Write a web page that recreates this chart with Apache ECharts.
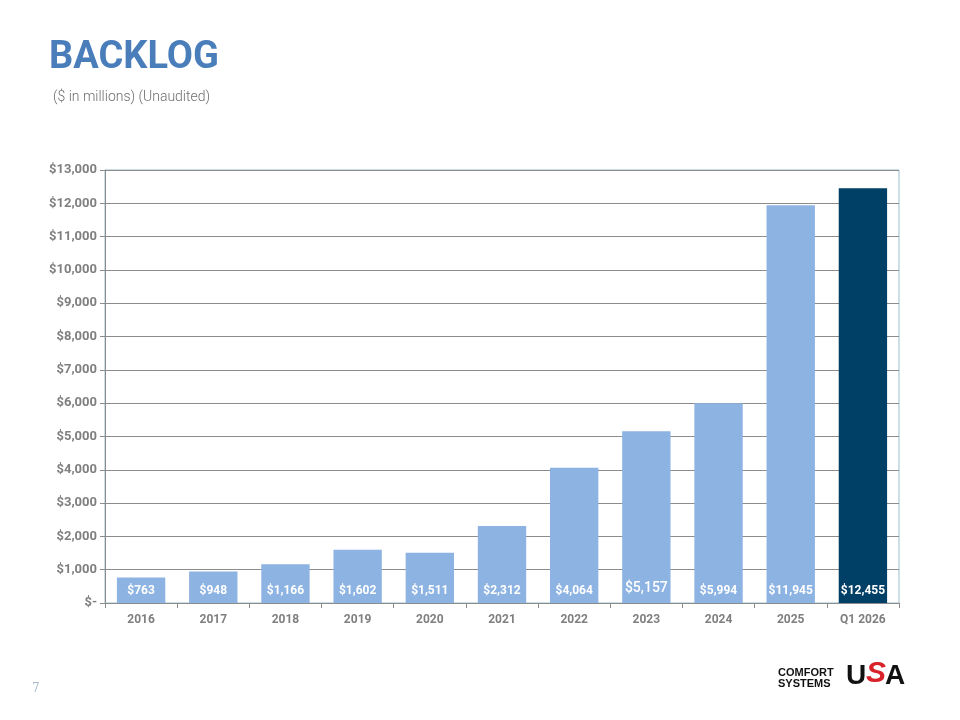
<!DOCTYPE html>
<html>
<head>
<meta charset="utf-8">
<script src="https://cdn.jsdelivr.net/npm/echarts@6/dist/echarts.min.js"></script>
<style>
  html, body { margin: 0; padding: 0; background: #fff; }
  #main { width: 960px; height: 720px; }
</style>
</head>
<body>
<div id="main"></div>
<script>
var years = ['2016', '2017', '2018', '2019', '2020', '2021', '2022', '2023', '2024', '2025', 'Q1 2026'];
var backlog = [763, 948, 1166, 1602, 1511, 2312, 4064, 5157, 5994, 11945, 12455];
var yTicks = [0, 1000, 2000, 3000, 4000, 5000, 6000, 7000, 8000, 9000, 10000, 11000, 12000, 13000];

function money(v) {
    if (v === 0) return '$-';
    return '$' + v.toLocaleString('en-US');
}

var myChart = echarts.init(document.getElementById('main'));

var barData = backlog.map(function (v, i) {
    var item = { value: v };
    if (i === backlog.length - 1) {
        item.itemStyle = { color: '#003f66' };
    }
    // 2023 label is set in a bigger, lighter type on the slide
    if (years[i] === '2023') {
        item.label = { fontSize: 14, fontWeight: 500, offset: [0, -2] };
    }
    return item;
});

var option = {
    animation: false,
    grid: {
        left: 105,
        right: 61,
        top: 170,
        bottom: 117,
        show: true,
        borderColor: '#9bbfcc',
        borderWidth: 1
    },
    xAxis: {
        type: 'category',
        data: years,
        axisLine: { lineStyle: { color: '#8c8c8c', width: 1 } },
        axisTick: { show: true, length: 5, lineStyle: { color: '#8c8c8c' } },
        axisLabel: {
            color: '#7f7f7f',
            fontFamily: 'Roboto',
            fontWeight: 'bold',
            fontSize: 12,
            margin: 11
        }
    },
    yAxis: {
        type: 'value',
        min: yTicks[0],
        max: yTicks[yTicks.length - 1],
        interval: 1000,
        axisLine: { show: true, lineStyle: { color: '#8c8c8c' } },
        axisTick: { show: true, length: 5, lineStyle: { color: '#8c8c8c' } },
        splitLine: { lineStyle: { color: '#8c8c8c', width: 1 } },
        axisLabel: {
            color: '#7f7f7f',
            fontFamily: 'Roboto',
            fontWeight: 'bold',
            fontSize: 13,
            margin: 8,
            formatter: money
        }
    },
    series: [{
        name: 'Backlog',
        type: 'bar',
        data: barData,
        barCategoryGap: '33%',
        itemStyle: { color: '#8db3e2' },
        label: {
            show: true,
            position: 'insideBottom',
            distance: 6,
            color: '#fff',
            fontFamily: 'Roboto',
            fontWeight: 'bold',
            fontSize: 12,
            formatter: function (p) { return money(p.value); }
        }
    }],
    graphic: [
        {
            type: 'text', left: 49, top: 39,
            style: { text: 'BACKLOG', fill: '#4a7ebb', font: 'bold 38px Roboto' }
        },
        {
            type: 'text', left: 53, top: 90,
            style: { text: '($ in millions) (Unaudited)', fill: '#6e6e6e', font: '300 14px Roboto' }
        },
        {
            type: 'text', left: 32, top: 683,
            style: { text: '7', fill: '#a9b8c9', font: '12px "DejaVu Serif"' }
        },
        {
            type: 'text', left: 778, top: 667,
            style: { text: 'COMFORT\nSYSTEMS', fill: '#111', font: 'bold 11px "Liberation Sans"', lineHeight: 11 }
        },
        {
            type: 'text', left: 846, top: 662,
            style: { text: 'U', fill: '#111', font: 'bold 28px "Liberation Sans"' }
        },
        {
            type: 'text', left: 866, top: 659,
            style: { text: 'S', fill: '#d8232a', font: 'bold italic 30px "Liberation Sans"' }
        },
        {
            type: 'text', left: 885, top: 662,
            style: { text: 'A', fill: '#111', font: 'bold 28px "Liberation Sans"' }
        }
    ]
};

myChart.setOption(option);
</script>
</body>
</html>
